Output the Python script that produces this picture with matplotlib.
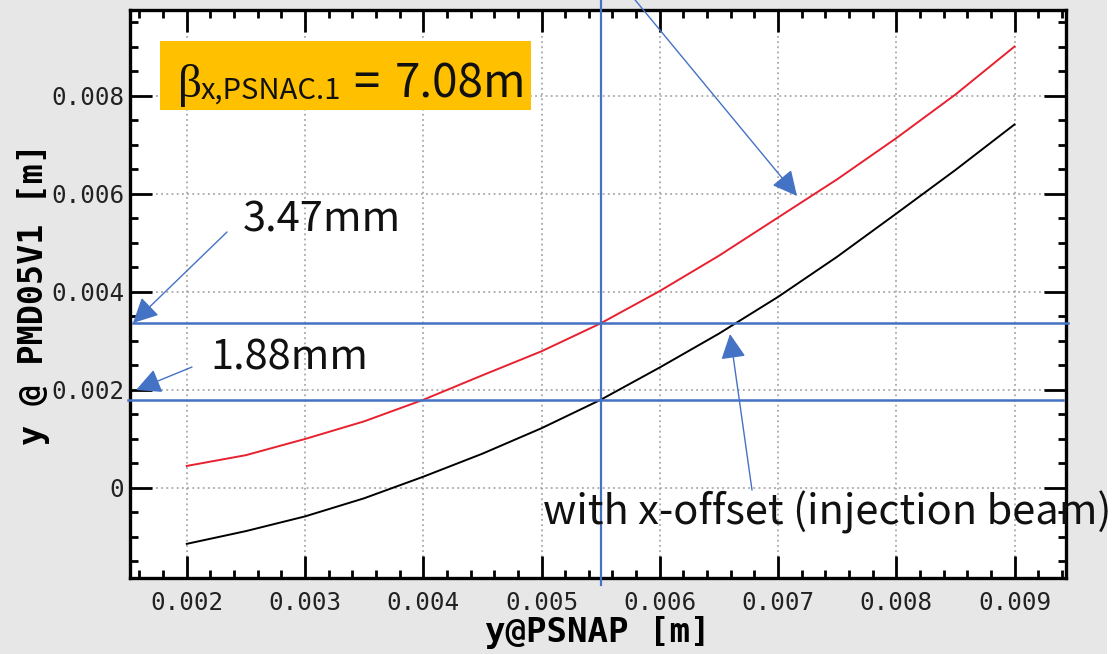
import matplotlib
matplotlib.use("Agg")
import matplotlib.pyplot as plt
from matplotlib.patches import Rectangle
from matplotlib.ticker import MultipleLocator, FuncFormatter

# ---- data ----
x_psnap = [0.0020, 0.0025, 0.0030, 0.0035, 0.0040, 0.0045, 0.0050, 0.0055,
           0.0060, 0.0065, 0.0070, 0.0075, 0.0080, 0.0085, 0.0090]
y_ref = [0.00045, 0.00067, 0.00100, 0.00136, 0.00180, 0.00230, 0.00279, 0.00336,
         0.00402, 0.00474, 0.00552, 0.00630, 0.00714, 0.00803, 0.00901]
y_offset = [-0.00114, -0.00088, -0.00058, -0.00021, 0.00023, 0.00070, 0.00122, 0.00180,
            0.00246, 0.00315, 0.00390, 0.00472, 0.00560, 0.00649, 0.00742]
x_ticks = [0.002, 0.003, 0.004, 0.005, 0.006, 0.007, 0.008, 0.009]
y_ticks = [0.0, 0.002, 0.004, 0.006, 0.008]
x_mark = 0.0055
h_marks = [0.00336, 0.0018]

W, H = 1116, 654
fig = plt.figure(figsize=(W / 100, H / 100), dpi=100, facecolor="#e7e7e7")
AX_L, AX_R, AX_T, AX_B = 130, 1066, 10, 578
ax = fig.add_axes([AX_L / W, 1 - AX_B / H, (AX_R - AX_L) / W, (AX_B - AX_T) / H])
ax.set_facecolor("white")


def axf(px, py):
    """pixel position -> axes fraction"""
    return ((px - AX_L) / (AX_R - AX_L), (AX_B - py) / (AX_B - AX_T))


ax.plot(x_psnap, y_ref, color="#e8202f", lw=1.4, zorder=3)
ax.plot(x_psnap, y_offset, color="black", lw=1.4, zorder=3)

ax.set_xlim(0.001520, 0.009435)
ax.set_ylim(-0.001837, 0.009755)
ax.set_xticks(x_ticks)
ax.set_yticks(y_ticks)
ax.xaxis.set_minor_locator(MultipleLocator(0.0002))
ax.yaxis.set_minor_locator(MultipleLocator(0.0005))
ax.xaxis.set_major_formatter(FuncFormatter(lambda v, p: f"{v:.3f}"))
ax.yaxis.set_major_formatter(FuncFormatter(lambda v, p: "0" if abs(v) < 1e-12 else f"{v:.3f}"))

ax.tick_params(which="both", direction="in", top=True, right=True, width=2.0, color="black")
ax.tick_params(which="major", length=16)
ax.tick_params(which="minor", length=6)
ax.tick_params(axis="x", which="major", pad=9)
ax.tick_params(axis="y", which="major", pad=4)
for lab in ax.get_xticklabels() + ax.get_yticklabels():
    lab.set_fontfamily("DejaVu Sans Mono")
    lab.set_fontsize(17.5)
    lab.set_color("#222222")
for sp in ax.spines.values():
    sp.set_linewidth(2.4)

ax.grid(True, which="major", color="#9a9a9a", linestyle=(0, (1.2, 2.2)), lw=1.1)

ax.set_xlabel("y@PSNAP [m]", fontfamily="DejaVu Sans Mono", fontweight="bold", fontsize=24.5)
ax.set_ylabel("y @ PMD05V1 [m]", fontfamily="DejaVu Sans Mono", fontweight="bold", fontsize=24)
ax.xaxis.set_label_coords(0.5, axf(0, 616)[1])
ax.yaxis.set_label_coords(axf(50, 0)[0], 0.5)

blue = "#4472C4"
# marker lines
ax.plot([x_mark, x_mark], [axf(0, 585)[1], 1.05], color=blue, lw=1.6,
        transform=ax.get_xaxis_transform(), clip_on=False, zorder=4)
ax.plot([axf(133, 0)[0], axf(1068, 0)[0]], [h_marks[0]] * 2, color=blue, lw=1.8,
        transform=ax.get_yaxis_transform(), clip_on=False, zorder=4)
ax.plot([axf(128, 0)[0], axf(1063, 0)[0]], [h_marks[1]] * 2, color=blue, lw=1.8,
        transform=ax.get_yaxis_transform(), clip_on=False, zorder=4)

# arrows
arrow_kw = dict(arrowstyle="-|>,head_length=0.7,head_width=0.35", color=blue, lw=1.0,
                shrinkA=0, shrinkB=0, mutation_scale=22)
for tail, tip in [((227, 232), (133, 323)), ((192, 367), (136, 390)),
                  ((631, -5), (797, 196)), ((752, 490), (730, 334))]:
    ax.annotate("", xy=axf(*tip), xycoords="axes fraction", xytext=axf(*tail),
                textcoords="axes fraction", arrowprops=arrow_kw, annotation_clip=False, zorder=6)

jp = ["Noto Sans CJK JP", "DejaVu Sans"]
txt_kw = dict(fontfamily=jp, fontsize=30, ha="left", va="baseline",
              color="#111111", zorder=7, clip_on=False, transform=ax.transAxes)
ax.text(*axf(243, 232), "3.47mm", **txt_kw)
ax.text(*axf(210, 370), "1.88mm", **txt_kw)
ax.text(*axf(543, 524), "with x-offset (injection beam)", **txt_kw)

# orange box with beta label
x0, y0 = axf(160, 110)
x1, y1 = axf(531, 41)
ax.add_patch(Rectangle((x0, y0), x1 - x0, y1 - y0, transform=ax.transAxes,
                       facecolor="#FFC000", edgecolor="none", zorder=5, clip_on=False))
box_kw = dict(color="#111111", zorder=8, transform=ax.transAxes, ha="left", va="baseline")
ax.text(*axf(178, 97), "β", fontfamily="Liberation Serif", fontsize=34, **box_kw)
ax.text(*axf(201, 99), "x,PSNAC.1", fontfamily=jp, fontsize=21, **box_kw)
ax.text(*axf(353, 97), "=", fontfamily=jp, fontsize=34, **box_kw)
ax.text(*axf(395, 97), "7.08m", fontfamily=jp, fontsize=33, **box_kw)

# white strip at right edge of the screenshot (behind everything)
fig.patches.append(Rectangle((1107 / W, 0), 9 / W, 1, transform=fig.transFigure,
                             facecolor="white", edgecolor="none", zorder=-1))

fig.savefig("out.png", dpi=100, facecolor=fig.get_facecolor())
